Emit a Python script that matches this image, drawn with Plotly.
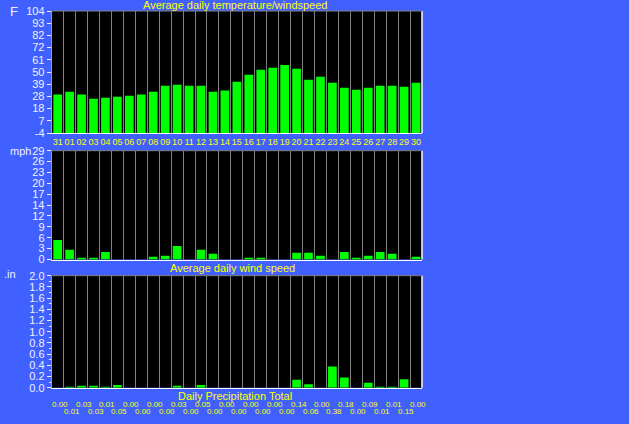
import numpy as np
import plotly.graph_objects as go

DAYS = ["31", "01", "02", "03", "04", "05", "06", "07", "08", "09", "10", "11", "12", "13", "14", "15",
        "16", "17", "18", "19", "20", "21", "22", "23", "24", "25", "26", "27", "28", "29", "30"]
TEMP_F = [30, 32.5, 30, 26.3, 27.2, 28.1, 29, 30, 32.5, 37.8, 38.7, 37.8, 37.8, 32.5, 33.6, 41.3,
          47.5, 51.9, 53.7, 56.3, 52.8, 43.1, 45.7, 40.4, 36, 34.2, 36, 37.8, 37.8, 36.9, 40.4]
WIND_MPH = [5.2, 2.6, 0.4, 0.4, 2.0, 0, 0, 0, 0.7, 1.0, 3.6, 0, 2.6, 1.5, 0, 0,
            0.4, 0.4, 0, 0, 1.8, 1.8, 1.0, 0, 2.0, 0.4, 1.0, 2.0, 1.5, 0, 0.7]
PRECIP_IN = [0.00, 0.01, 0.03, 0.03, 0.01, 0.05, 0.00, 0.00, 0.00, 0.00, 0.03, 0.00, 0.05, 0.00, 0.00, 0.00,
             0.00, 0.00, 0.00, 0.00, 0.14, 0.06, 0.00, 0.38, 0.18, 0.00, 0.09, 0.01, 0.01, 0.15, 0.00]
TEMP_TICKS = ["-4", "7", "18", "28", "39", "50", "61", "72", "82", "93", "104"]
WIND_TICKS = ["0", "3", "6", "9", "12", "14", "17", "20", "23", "26", "29"]
PRECIP_TICKS = ["0.0", "0.2", "0.4", "0.6", "0.8", "1.0", "1.2", "1.4", "1.6", "1.8", "2.0"]

TEMP_MIN, TEMP_MAX = -4, 104
WIND_MAX = 29
PRECIP_MAX = 2.0

BG = "#4060FF"
GREEN = "#00FF00"
YELLOW = "#FFFF00"
GRID = "#808080"
TICKC = "#F0F0FF"
FONT = "Liberation Sans"

W, H = 629, 424
XDOM = [51.7 / W, 422 / W]


def ydom(top, bottom):
    return [1 - bottom / H, 1 - top / H]


fig = go.Figure()
fig.add_trace(go.Bar(x=DAYS, y=[t - TEMP_MIN for t in TEMP_F], base=TEMP_MIN,
                     marker=dict(color=GREEN, line=dict(width=0)), xaxis="x", yaxis="y"))
fig.add_trace(go.Bar(x=DAYS, y=WIND_MPH, marker=dict(color=GREEN, line=dict(width=0)),
                     xaxis="x2", yaxis="y2"))
fig.add_trace(go.Bar(x=DAYS, y=PRECIP_IN, marker=dict(color=GREEN, line=dict(width=0)),
                     xaxis="x3", yaxis="y3"))

xcommon = dict(domain=XDOM, type="category", tickson="boundaries", showgrid=True,
               gridcolor=GRID, gridwidth=1, ticks="", showline=True, linecolor="white",
               linewidth=1, range=[-0.5, len(DAYS) - 0.5], fixedrange=True,
               tickangle=0, dtick=1, automargin=False)
ycommon = dict(ticks="outside", ticklen=4, tickcolor=TICKC, showgrid=False, zeroline=False,
               showline=True, linecolor="#A0A0A0", linewidth=1, automargin=False,
               tickfont=dict(family=FONT, size=11, color=TICKC))

fig.update_layout(
    width=W, height=H,
    margin=dict(l=0, r=0, t=0, b=0, pad=0, autoexpand=False),
    paper_bgcolor=BG, plot_bgcolor="black",
    showlegend=False, bargap=0.27,
    xaxis=dict(xcommon, anchor="y", showticklabels=True,
               tickfont=dict(family=FONT, size=9, color=YELLOW)),
    xaxis2=dict(xcommon, anchor="y2", showticklabels=False),
    xaxis3=dict(xcommon, anchor="y3", showticklabels=False),
    yaxis=dict(ycommon, domain=ydom(11, 133), anchor="x", range=[TEMP_MIN, TEMP_MAX],
               tickvals=list(np.linspace(TEMP_MIN, TEMP_MAX, len(TEMP_TICKS))), ticktext=TEMP_TICKS),
    yaxis2=dict(ycommon, domain=ydom(150.7, 259.5), anchor="x2", range=[0, WIND_MAX],
                tickvals=list(np.linspace(0, WIND_MAX, len(WIND_TICKS))), ticktext=WIND_TICKS),
    yaxis3=dict(ycommon, domain=ydom(275.7, 387.7), anchor="x3", range=[0, PRECIP_MAX],
                tickvals=list(np.linspace(0, PRECIP_MAX, len(PRECIP_TICKS))), ticktext=PRECIP_TICKS,
                minor=dict(ticks="outside", ticklen=2, tickcolor=TICKC, dtick=0.1)),
)

# frame: white right edge, gray top edge
for xr, yr in [("x domain", "y domain"), ("x2 domain", "y2 domain"), ("x3 domain", "y3 domain")]:
    fig.add_shape(type="line", xref=xr, yref=yr, x0=1, x1=1, y0=0, y1=1,
                  line=dict(color="white", width=1.5))
    fig.add_shape(type="line", xref=xr, yref=yr, x0=0, x1=1, y0=1, y1=1,
                  line=dict(color=GRID, width=1))


def note(text, x, y, size=11, color=YELLOW, xanchor="center"):
    fig.add_annotation(text=text, x=x, y=y, xref="paper", yref="paper", showarrow=False,
                       xanchor=xanchor, yanchor="middle",
                       font=dict(family=FONT, size=size, color=color))


note("Average daily temperature/windspeed", 235 / W, 1 - 5 / H)
note("Average daily wind speed", 232 / W, 1 - 268 / H)
note("Daily Precipitation Total", 235 / W, 1 - 396 / H)
note("F", 14 / W, 1 - 12 / H, size=13, color=TICKC)
note("mph", 33 / W, 1 - 151 / H, size=11, color=TICKC, xanchor="right")
note(".in", 10 / W, 1 - 274 / H, size=11, color=TICKC)

for i, v in enumerate(PRECIP_IN):
    fig.add_annotation(text=f"{v:.2f}", x=i, xref="x3", y=(1 - 404.7 / H) if i % 2 == 0 else (1 - 411.7 / H),
                       yref="paper", showarrow=False, xshift=2, yanchor="middle",
                       font=dict(family=FONT, size=8, color=YELLOW))

fig.write_html("out.html", config={"displayModeBar": False},
               post_script="document.body.style.margin='0px';document.body.style.background='" + BG + "';")
